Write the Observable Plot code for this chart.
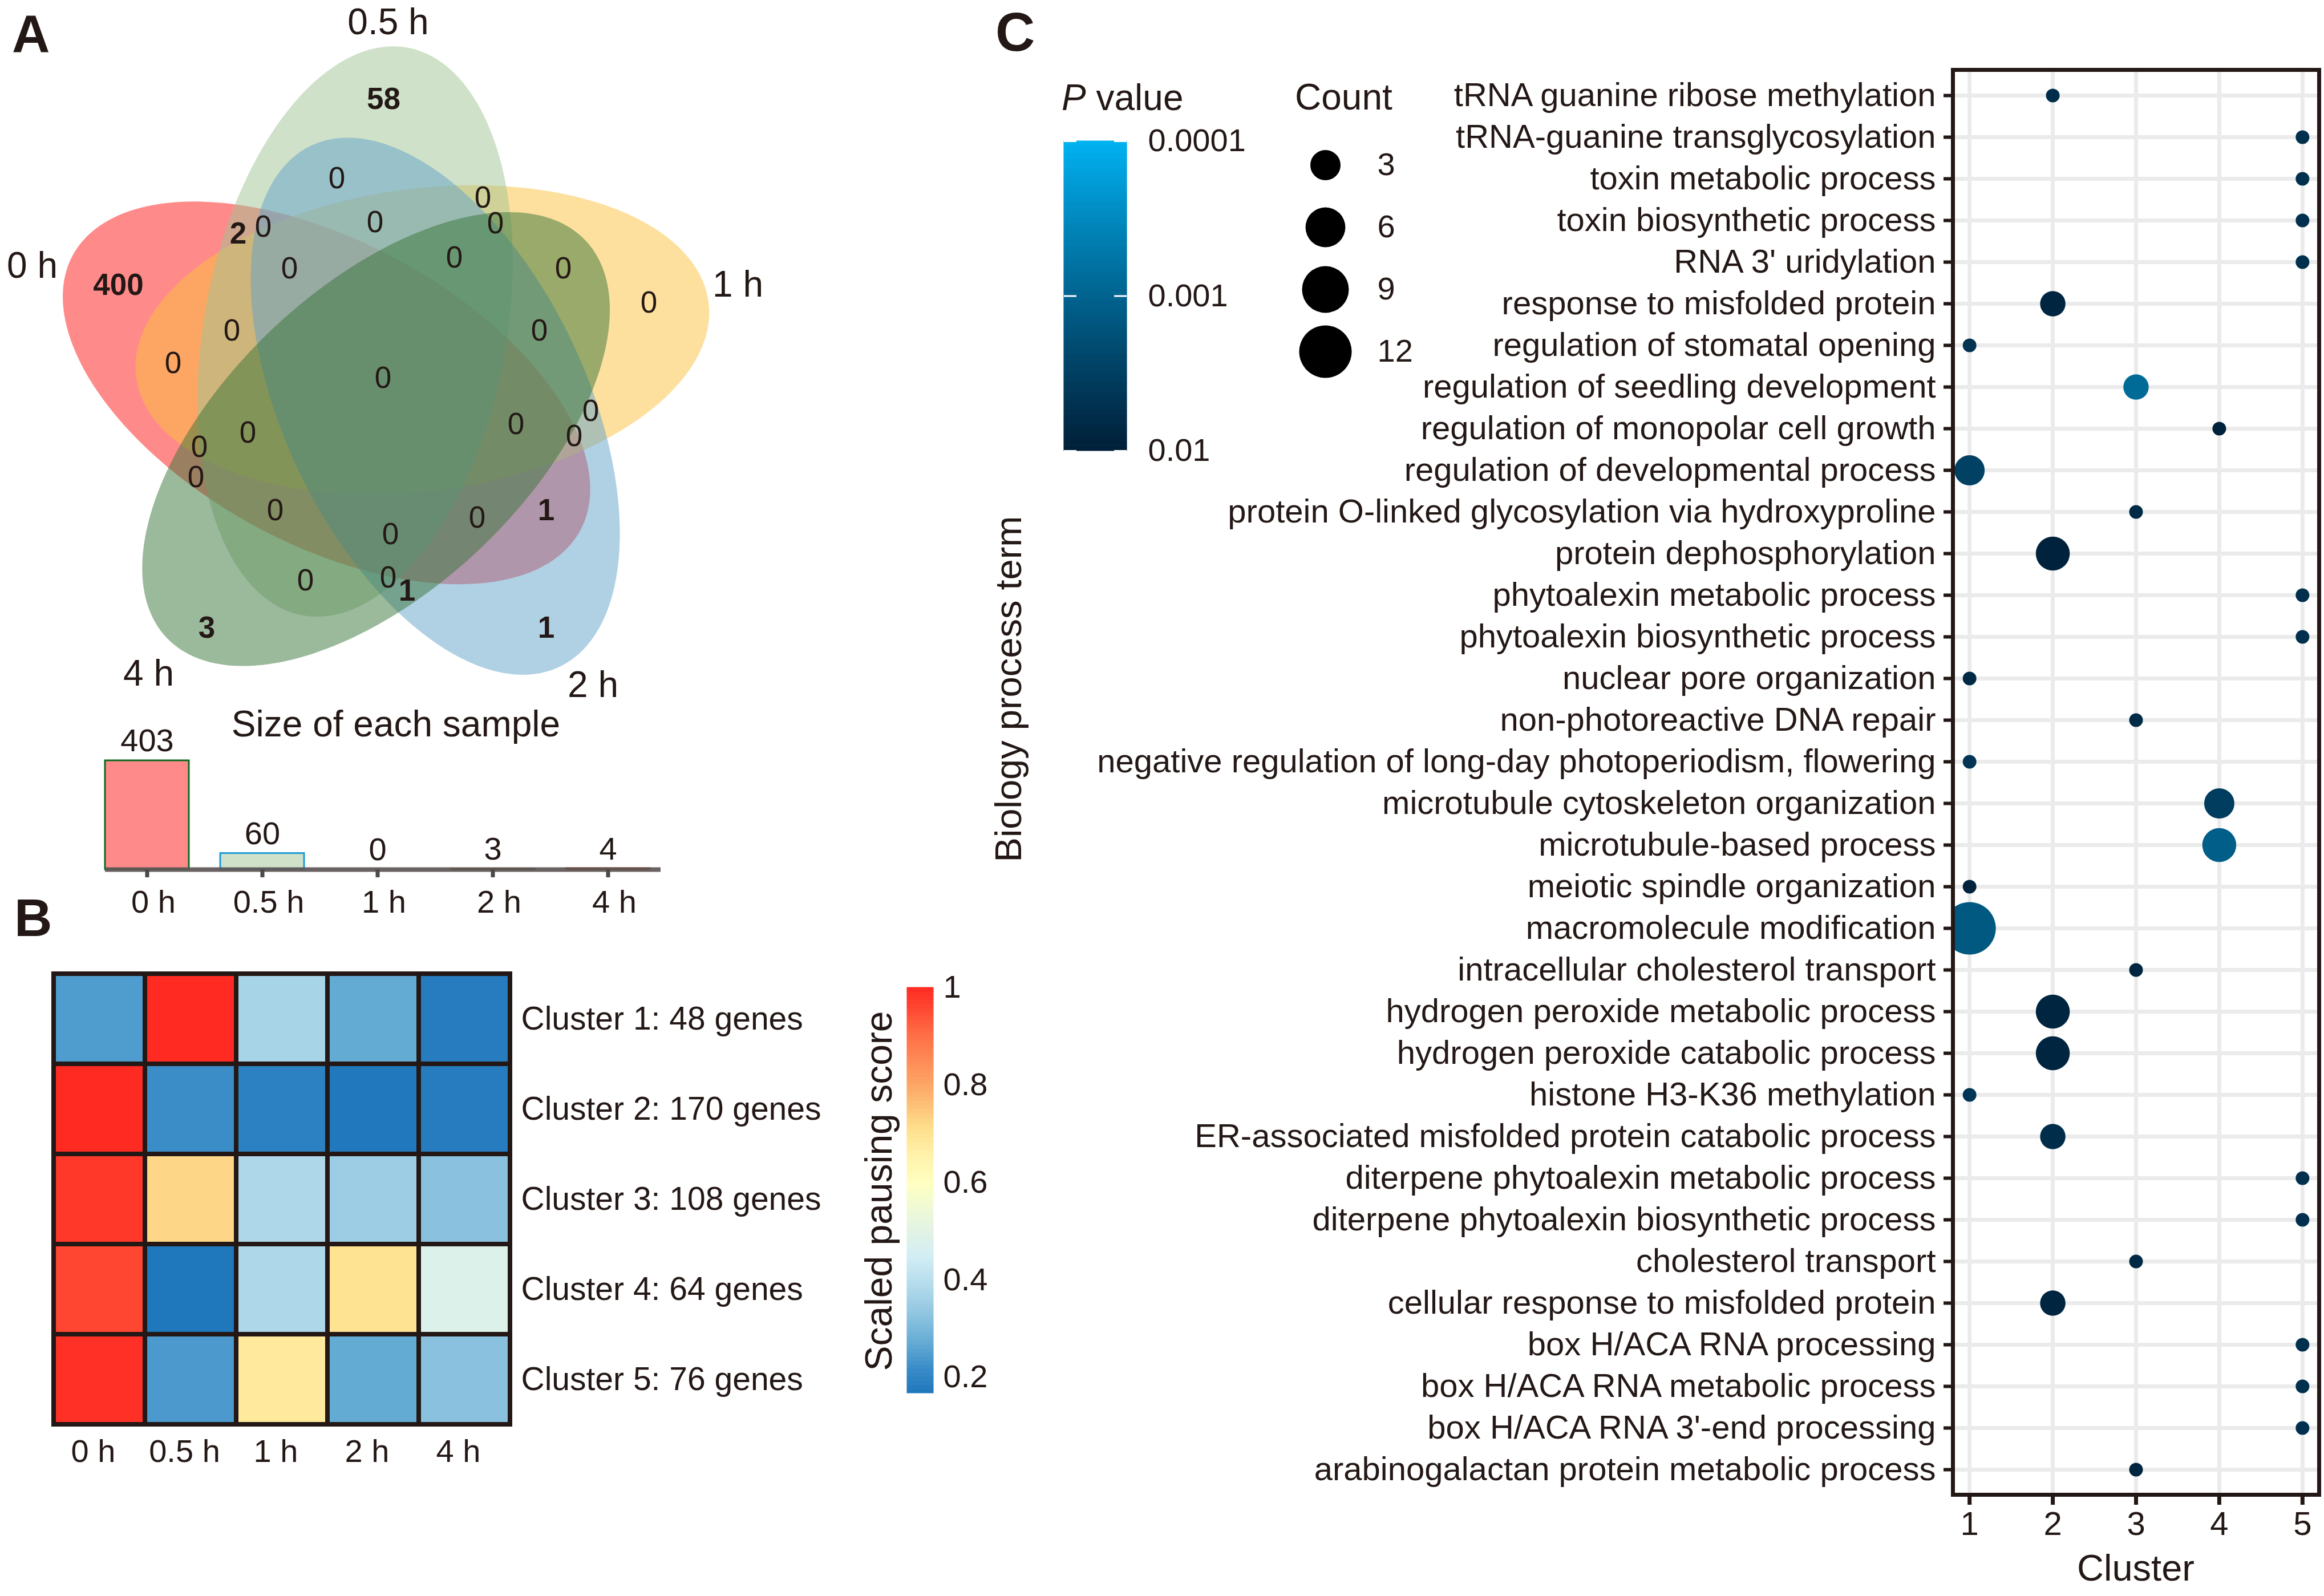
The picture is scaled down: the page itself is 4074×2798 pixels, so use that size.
<!DOCTYPE html>
<html><head><meta charset="utf-8">
<script src="https://cdn.jsdelivr.net/npm/d3@7"></script>
<script src="https://cdn.jsdelivr.net/npm/@observablehq/plot@0.6"></script>
<style>
html,body{margin:0;padding:0;background:#fff;}
#fig{position:relative;width:4074px;height:2798px;overflow:hidden;background:#fff;font-family:"Liberation Sans",Arial,Helvetica,sans-serif;color:#231815;}
#fig > svg{position:absolute;}
.t{position:absolute;white-space:nowrap;line-height:1;font-family:"Liberation Sans",Arial,Helvetica,sans-serif;color:#231815;}
</style></head><body><div id="fig"></div>
<script>
// ---------------- DATA ----------------
// Panel A: Venn diagram
const vennSets = ["0 h", "0.5 h", "1 h", "2 h", "4 h"];
const vennFill = ["#FF1515", "#9FC391", "#FBC13D", "#61A1C9", "#377337"];
const vennCounts = [58,0,0,2,0,0,0,400,0,0,0,0,0,0,0,0,0,0,0,0,0,0,0,1,0,0,0,0,1,3,1];
// Panel A: bar chart "Size of each sample"
const sampleSizes = [403, 60, 0, 3, 4];
const barStroke = ["#0B6B1E", "#1E9BD7", "#9B2335", "#6B6A10", "#A0400A"];
// Panel B: heatmap
const times = ["0 h", "0.5 h", "1 h", "2 h", "4 h"];
const clusterLabels = ["Cluster 1: 48 genes", "Cluster 2: 170 genes", "Cluster 3: 108 genes", "Cluster 4: 64 genes", "Cluster 5: 76 genes"];
const pausingScores = [
  [0.245, 1.00, 0.37, 0.27, 0.18],
  [1.00, 0.22, 0.19, 0.17, 0.18],
  [0.98, 0.725, 0.38, 0.35, 0.32],
  [0.96, 0.167, 0.38, 0.70, 0.48],
  [0.99, 0.24, 0.68, 0.27, 0.32]
];
const heatTicks = [0.2, 0.4, 0.6, 0.8, 1];
// Panel C: GO dot plot
const goTerms = [
  "tRNA guanine ribose methylation",
  "tRNA-guanine transglycosylation",
  "toxin metabolic process",
  "toxin biosynthetic process",
  "RNA 3' uridylation",
  "response to misfolded protein",
  "regulation of stomatal opening",
  "regulation of seedling development",
  "regulation of monopolar cell growth",
  "regulation of developmental process",
  "protein O-linked glycosylation via hydroxyproline",
  "protein dephosphorylation",
  "phytoalexin metabolic process",
  "phytoalexin biosynthetic process",
  "nuclear pore organization",
  "non-photoreactive DNA repair",
  "negative regulation of long-day photoperiodism, flowering",
  "microtubule cytoskeleton organization",
  "microtubule-based process",
  "meiotic spindle organization",
  "macromolecule modification",
  "intracellular cholesterol transport",
  "hydrogen peroxide metabolic process",
  "hydrogen peroxide catabolic process",
  "histone H3-K36 methylation",
  "ER-associated misfolded protein catabolic process",
  "diterpene phytoalexin metabolic process",
  "diterpene phytoalexin biosynthetic process",
  "cholesterol transport",
  "cellular response to misfolded protein",
  "box H/ACA RNA processing",
  "box H/ACA RNA metabolic process",
  "box H/ACA RNA 3'-end processing",
  "arabinogalactan protein metabolic process"
];
const goCluster = [2,5,5,5,5,2,1,3,4,1,3,2,5,5,1,3,1,4,4,1,1,3,2,2,1,2,5,5,3,2,5,5,5,3];
const goCount   = [1,1,1,1,1,2,1,2,1,3,1,4,1,1,1,1,1,3,4,1,12,1,4,4,1,2,1,1,1,2,1,1,1,1];
const goP = [0.006,0.0055,0.0055,0.0055,0.0055,0.008,0.005,0.0008,0.009,0.003,0.0065,0.009,0.0055,0.0055,0.007,0.0065,0.0045,0.0035,0.0012,0.009,0.0014,0.008,0.008,0.008,0.0045,0.006,0.0055,0.0055,0.007,0.008,0.0055,0.0055,0.0055,0.008];
const clusterTicks = [1, 2, 3, 4, 5];
const pTicks = [0.0001, 0.001, 0.01];
const countTicks = [3, 6, 9, 12];

// ---------------- LAYOUT / STYLE ----------------
const INK = "#231815";
const FONT = '"Liberation Sans", Arial, Helvetica, sans-serif';
const baseStyle = {fontFamily: FONT, background: "transparent", overflow: "visible", color: INK};
const fig = document.getElementById("fig");
function place(svg, left, top) { svg.style.left = left + "px"; svg.style.top = top + "px"; fig.appendChild(svg); }

// Venn geometry (five rotated ellipses on a pentagon)
const VG = {cx: 671, cy: 669, d: 101, a: 506, b: 265, centerAngle0: -47, axisAngle0: -7.5};
const vennSlot = {"1 h": 0, "2 h": 1, "4 h": 2, "0 h": 3, "0.5 h": 4};
const vennDrawOrder = ["0 h", "1 h", "0.5 h", "2 h", "4 h"];
const vennCountAnchors = [[672,174],[590,313],[846,347],[417,410],[461,398],[657,390],[868,392],[207,500],[507,471],[796,452],[987,471],[1137,531],[406,580],[945,580],[303,637],[671,663],[1035,721],[434,759],[904,744],[1006,765],[349,784],[343,837],[482,895],[957,895],[836,908],[684,937],[535,1018],[680,1013],[713,1036],[362,1101],[957,1101]];
const vennSetAnchors = {"0 h": [56,466], "0.5 h": [680,39], "1 h": [1293,499], "2 h": [1039,1201], "4 h": [260,1181]};

function ellipseOutline(set) {
  const k = vennSlot[set];
  const ca = (VG.centerAngle0 + 72 * k) * Math.PI / 180;
  const phi = (VG.axisAngle0 + 72 * k) * Math.PI / 180;
  const cx = VG.cx + VG.d * Math.cos(ca), cy = VG.cy + VG.d * Math.sin(ca);
  return d3.range(240).map(i => {
    const t = 2 * Math.PI * i / 240;
    const px = VG.a * Math.cos(t), py = VG.b * Math.sin(t);
    return {x: cx + px * Math.cos(phi) - py * Math.sin(phi), y: cy + px * Math.sin(phi) + py * Math.cos(phi)};
  });
}
const vennLabelData = vennCounts.map((n, i) => ({n, x: vennCountAnchors[i][0], y: vennCountAnchors[i][1]}));
const vennSetData = vennSets.map(s => ({s, x: vennSetAnchors[s][0], y: vennSetAnchors[s][1]}));

const vennPlot = Plot.plot({
  width: 1400, height: 1240, margin: 0,
  x: {domain: [0, 1400], range: [0, 1400], axis: null},
  y: {domain: [0, 1240], range: [0, 1240], axis: null},
  style: baseStyle,
  marks: [
    ...vennDrawOrder.map(s => Plot.line(ellipseOutline(s), {x: "x", y: "y", curve: "linear-closed", fill: vennFill[vennSets.indexOf(s)], fillOpacity: 0.5, stroke: "none"})),
    Plot.text(vennLabelData.filter(d => d.n === 0), {x: "x", y: "y", text: d => String(d.n), fontSize: 53, fill: INK}),
    Plot.text(vennLabelData.filter(d => d.n !== 0), {x: "x", y: "y", text: d => String(d.n), fontSize: 53, fontWeight: "bold", fill: INK}),
    Plot.text(vennSetData, {x: "x", y: "y", text: "s", fontSize: 64, fill: INK})
  ]
});
place(vennPlot, 0, 0);

// Bar chart of sample sizes
const sizeData = vennSets.map((s, i) => ({set: s, n: sampleSizes[i], fill: vennFill[i], stroke: barStroke[i]}));
const barPlot = Plot.plot({
  width: 1250, height: 420, marginLeft: 184, marginRight: 92, marginTop: 0, marginBottom: 136,
  x: {type: "band", domain: vennSets, range: [156, 1167.5], paddingInner: 0.27, paddingOuter: 0.135},
  y: {domain: [0, 403], range: [284, 93], axis: null},
  color: {type: "identity"},
  style: baseStyle,
  marks: [
    Plot.barY(sizeData, {x: "set", y: "n", fill: "fill", fillOpacity: 0.5, stroke: "stroke", strokeWidth: 3}),
    Plot.ruleY([0], {stroke: "#5E5656", strokeWidth: 8, strokeOpacity: 0.92}),
    Plot.axisX({tickSize: 14, tickPadding: 22, strokeWidth: 7, stroke: "#4A4A4A", fill: INK, fontSize: 56, label: null, text: null}),
    Plot.axisX({tickSize: 0, tickPadding: 36, fontSize: 56, fill: INK, label: null, dx: 11}),
    Plot.text(sizeData, {x: "set", y: "n", text: d => String(d.n), dy: -34, fontSize: 56, fill: INK})
  ]
});
place(barPlot, 0, 1240);

// Panel B: heatmap
const heatStops = [0.167, 0.22, 0.27, 0.33, 0.39, 0.45, 0.54, 0.6, 0.65, 0.71, 0.8, 0.9, 1];
const heatColors = ["#1F77BC","#3B8DC8","#64ABD4","#90C5E0","#B4DCEC","#D4EEF5","#EEF8D8","#FFFFC0","#FFF3AE","#FEE08D","#FDA666","#FF7048","#FF2A22"];
const heatColor = {type: "linear", domain: heatStops, range: heatColors};
const heatData = clusterLabels.flatMap((c, i) => times.map((t, j) => ({cluster: c, time: t, v: pausingScores[i][j]})));
const heatPlot = Plot.plot({
  width: 1500, height: 1000, marginLeft: 92, marginRight: 605, marginTop: 56, marginBottom: 152,
  x: {type: "band", domain: times, padding: 0},
  y: {type: "band", domain: clusterLabels, padding: 0},
  color: heatColor,
  style: baseStyle,
  marks: [
    Plot.cell(heatData, {x: "time", y: "cluster", fill: "v", stroke: INK, strokeWidth: 8, inset: 0}),
    Plot.axisX({tickSize: 0, tickPadding: 25, fontSize: 56, fill: INK, label: null, dx: -11}),
    Plot.axisY({anchor: "right", tickSize: 0, tickPadding: 18, fontSize: 57, fill: INK, label: null})
  ]
});
place(heatPlot, 0, 1650);

// Heatmap colour bar
const hLo = 0.167, hHi = 1;
const heatStrips = d3.range(100).map(i => ({y1: hLo + (hHi - hLo) * i / 100, y2: hLo + (hHi - hLo) * (i + 1) / 100}));
const heatLegend = Plot.plot({
  width: 320, height: 900, marginLeft: 110, marginRight: 164, marginTop: 81, marginBottom: 108,
  y: {domain: [hLo, hHi], range: [792, 81]},
  color: heatColor,
  style: baseStyle,
  marks: [
    Plot.rect(heatStrips, {y1: "y1", y2: "y2", fill: d => (d.y1 + d.y2) / 2, stroke: d => (d.y1 + d.y2) / 2, strokeWidth: 1}),
    Plot.axisY({anchor: "right", ticks: heatTicks, tickSize: 0, tickPadding: 17, fontSize: 56, fill: INK, tickFormat: d => String(d), label: null})
  ]
});
place(heatLegend, 1480, 1650);

// Panel C: dot plot
const pColor = {type: "log", domain: [0.0001, 0.01], range: ["#00B2F2", "#001F38"], interpolate: "lab"};
const rScale = {type: "sqrt", transform: c => c - 1, domain: [0, 11], range: [12, 46]};
const goData = goTerms.map((t, i) => ({term: t, cluster: goCluster[i], count: goCount[i], p: goP[i]}));
const dotPlot = Plot.plot({
  width: 2374, height: 2798, marginLeft: 1723, marginRight: 9, marginTop: 122, marginBottom: 178,
  x: {domain: [0.8, 5.2]},
  y: {type: "point", domain: goTerms, padding: 0.6},
  r: rScale,
  color: pColor,
  style: baseStyle,
  marks: [
    Plot.gridX({ticks: clusterTicks, stroke: "#EBEBEB", strokeOpacity: 1, strokeWidth: 7}),
    Plot.gridY({stroke: "#EBEBEB", strokeOpacity: 1, strokeWidth: 7}),
    Plot.dot(goData, {x: "cluster", y: "term", r: "count", fill: "p", stroke: "none", clip: true}),
    Plot.frame({stroke: INK, strokeWidth: 7}),
    Plot.axisY({tickSize: 16, tickPadding: 14, fontSize: 58, strokeWidth: 6, stroke: INK, fill: INK, label: null}),
    Plot.axisX({ticks: clusterTicks, tickSize: 18, tickPadding: 11, fontSize: 58, strokeWidth: 7, stroke: INK, fill: INK, label: null, tickFormat: d => String(d)})
  ]
});
place(dotPlot, 1700, 0);

// P value colour bar
const pStrips = d3.range(200).map(i => ({y1: Math.pow(10, -4 + 2 * i / 200), y2: Math.pow(10, -4 + 2 * (i + 1) / 200)}));
const pLegend = Plot.plot({
  width: 400, height: 720, marginLeft: 65, marginRight: 225, marginTop: 97, marginBottom: 80,
  x: {domain: [0, 1], axis: null},
  y: {type: "log", domain: [0.01, 0.0001], range: [640, 97]},
  color: pColor,
  style: baseStyle,
  marks: [
    Plot.rect(pStrips, {x1: 0, x2: 1, y1: "y1", y2: "y2", fill: d => Math.sqrt(d.y1 * d.y2), stroke: d => Math.sqrt(d.y1 * d.y2), strokeWidth: 1}),
    Plot.ruleY(pTicks, {x1: 0, x2: 0.2, stroke: "white", strokeWidth: 3}),
    Plot.ruleY(pTicks, {x1: 0.8, x2: 1, stroke: "white", strokeWidth: 3}),
    Plot.axisY({anchor: "right", ticks: pTicks, tickSize: 0, tickPadding: 37, fontSize: 56, fill: INK, tickFormat: d => String(d), label: null})
  ]
});
place(pLegend, 1800, 150);

// Count legend
const sizeLegend = Plot.plot({
  width: 400, height: 600, marginLeft: 73, marginRight: 227, marginTop: 0, marginBottom: 0,
  x: {domain: [0, 1], axis: null},
  y: {type: "point", domain: countTicks, range: [138, 466], padding: 0, axis: null},
  r: rScale,
  style: baseStyle,
  marks: [
    Plot.dot(countTicks, {x: 0.5, y: d => d, r: d => d, fill: "black", stroke: "none"}),
    Plot.text(countTicks, {x: 0.5, y: d => d, text: d => String(d), dx: 91, textAnchor: "start", fontSize: 56, fill: INK})
  ]
});
place(sizeLegend, 2200, 150);

// ---------------- TEXT (titles, panel letters) ----------------
function addText(html, x, baseline, size, opts = {}) {
  const d = document.createElement("div");
  d.className = "t";
  d.innerHTML = html;
  d.style.fontSize = size + "px";
  d.style.left = x + "px";
  d.style.top = (baseline - 0.8465 * size) + "px";
  if (opts.bold) d.style.fontWeight = "bold";
  if (opts.middle) d.style.transform = "translateX(-50%)";
  fig.appendChild(d);
}
function addRotated(txt, cx, cy, size) {
  const d = document.createElement("div");
  d.className = "t";
  d.textContent = txt;
  d.style.fontSize = size + "px";
  d.style.left = cx + "px";
  d.style.top = cy + "px";
  d.style.transform = "translate(-50%,-50%) rotate(-90deg)";
  fig.appendChild(d);
}
addText("A", 21, 91, 92, {bold: true});
addText("B", 25, 1641, 92, {bold: true});
addText("C", 1745, 89, 96, {bold: true});
addText("Size of each sample", 694, 1291, 64, {middle: true});
addText("<i>P</i> value", 1861, 193, 64);
addText("Count", 2270, 192, 64);
addText("Cluster", 3744, 2771, 65, {middle: true});
addRotated("Biology process term", 1767, 1208, 65);
addRotated("Scaled pausing score", 1540, 2088, 66);
</script></body></html>
